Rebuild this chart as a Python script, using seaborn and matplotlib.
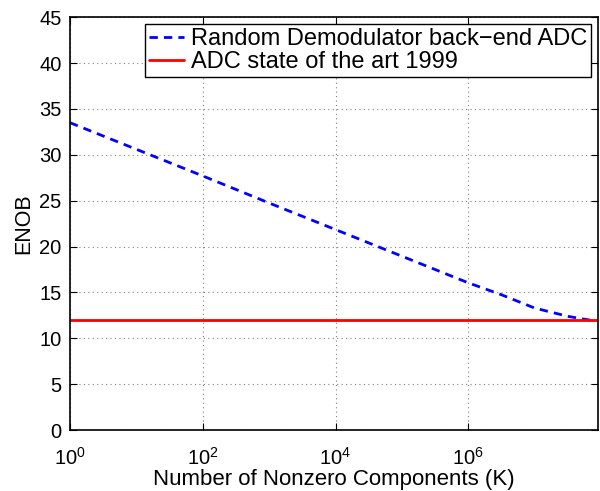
import numpy as np
import pandas as pd
import seaborn as sns
import matplotlib.pyplot as plt

# values
log_k = [0, 1, 2, 3, 4, 5, 6, 6.5, 7, 7.5, 7.9]
enob_rd = [33.5, 30.6, 27.7, 24.75, 21.85, 18.95, 16.05, 14.75, 13.3, 12.4, 11.9]
k_art = [1, 9e7]
enob_art = [12, 12]
x_ticks = [1, 1e2, 1e4, 1e6]
x_ticklabels = ['$10^{0}$', '$10^{2}$', '$10^{4}$', '$10^{6}$']
y_ticks = [0, 5, 10, 15, 20, 25, 30, 35, 40, 45]

df_rd = pd.DataFrame({'K': 10.0 ** np.array(log_k), 'ENOB': enob_rd})
df_art = pd.DataFrame({'K': k_art, 'ENOB': enob_art})

sns.set_style('ticks')
plt.rcParams['font.family'] = ['Liberation Sans', 'DejaVu Sans']
plt.rcParams['mathtext.fontset'] = 'custom'
plt.rcParams['mathtext.rm'] = 'Liberation Sans'
plt.rcParams['mathtext.it'] = 'Liberation Sans'
plt.rcParams['mathtext.default'] = 'regular'
for key in ['text.color', 'axes.labelcolor', 'xtick.color', 'ytick.color']:
    plt.rcParams[key] = 'black'
plt.rcParams['xtick.direction'] = 'in'
plt.rcParams['ytick.direction'] = 'in'

fig = plt.figure(figsize=(6, 4.91), dpi=100)
ax = fig.add_axes([0.1167, 0.124, 0.88, 0.841])

sns.lineplot(data=df_rd, x='K', y='ENOB', ax=ax, color='#0000ff', lw=2,
             linestyle=(0, (3, 2.2)), label='Random Demodulator back\u2212end ADC')
sns.lineplot(data=df_art, x='K', y='ENOB', ax=ax, color='#ff0000', lw=2,
             label='ADC state of the art 1999')

ax.set_xscale('log')
ax.set_xticks(x_ticks)
ax.set_xticklabels(x_ticklabels)
ax.minorticks_off()
ax.set_yticks(y_ticks)
ax.set_xlim(1, 9e7)
ax.set_ylim(0, 45)
ax.tick_params(which='both', top=True, right=True, labelsize=14.5, length=5, width=0.8)
ax.tick_params(axis='x', pad=12)
ax.tick_params(axis='y', pad=6)
ax.grid(True, linestyle=(0, (1, 3)), color='#808080', lw=0.8)
for s in ax.spines.values():
    s.set_linewidth(1.2)
    s.set_color('black')

ax.set_xlabel('Number of Nonzero Components (K)', fontsize=16, labelpad=0)
ax.set_ylabel('ENOB', fontsize=15.5, labelpad=4)

leg = ax.legend(loc='upper right', fontsize=17, handlelength=1.5, handletextpad=0.3,
                borderpad=0.15, labelspacing=0.05, fancybox=False, framealpha=1,
                borderaxespad=0.3)
leg.get_frame().set_edgecolor('black')
leg.get_frame().set_linewidth(1)

plt.savefig('out.png', dpi=100)
plt.close()
